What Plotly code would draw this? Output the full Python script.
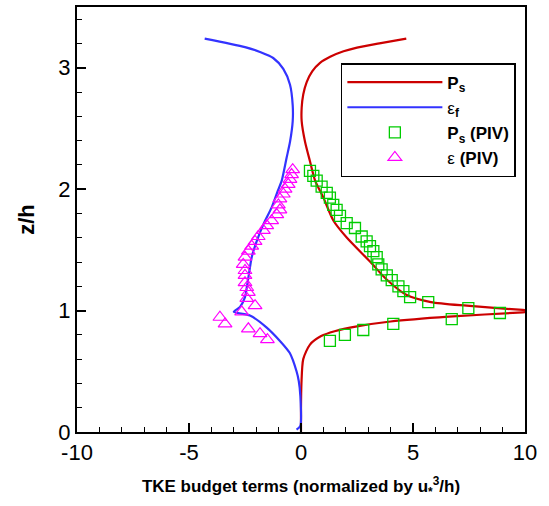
import plotly.graph_objects as go

# P_s model curve
ps_x = [0, 0, 0.02, 0.1, 0.4, 0.9, 1.5, 2.5, 4.0, 6.6, 9.9, 11.0, 9.9, 7.4, 5.8, 4.7, 3.8, 3.1, 2.05, 1.45, 1.0, 0.63, 0.4, 0.18, 0.03, 0.03, 0.1, 0.25, 0.5, 0.85, 1.3, 1.9, 2.5, 3.5, 4.7]
ps_y = [0, 0.2, 0.4, 0.6, 0.72, 0.79, 0.83, 0.87, 0.91, 0.95, 0.985, 0.996, 1.005, 1.04, 1.07, 1.13, 1.26, 1.4, 1.6, 1.74, 1.93, 2.07, 2.23, 2.39, 2.56, 2.67, 2.78, 2.88, 2.97, 3.04, 3.09, 3.135, 3.165, 3.2, 3.24]

# epsilon_f model curve
ef_x = [-0.2, -0.03, -0.03, -0.1, -0.2, -0.5, -0.94, -1.53, -2.28, -3.0, -2.72, -2.5, -2.42, -2.35, -2.2, -1.98, -1.68, -1.31, -1.05, -0.86, -0.64, -0.49, -0.37, -0.37, -0.49, -0.79, -1.24, -1.83, -2.5, -4.3]
ef_y = [0.02, 0.05, 0.3, 0.42, 0.5, 0.65, 0.75, 0.86, 0.96, 0.99, 1.03, 1.11, 1.19, 1.27, 1.44, 1.57, 1.71, 1.85, 1.98, 2.07, 2.26, 2.39, 2.56, 2.69, 2.86, 2.99, 3.08, 3.13, 3.17, 3.24]

# P_s (PIV)
piv_ps_x = [0.40, 0.55, 0.70, 0.92, 1.15, 1.29, 1.44, 1.59, 1.74, 2.04, 2.41, 2.71, 2.93, 3.08, 3.23, 3.38, 3.45, 3.60, 3.83, 4.05, 4.35, 4.57, 4.87, 5.68, 7.47, 8.88, 6.73, 4.12, 2.78, 1.96, 1.29]
piv_ps_y = [2.15, 2.11, 2.07, 2.02, 1.97, 1.93, 1.87, 1.83, 1.78, 1.72, 1.68, 1.61, 1.57, 1.53, 1.49, 1.44, 1.38, 1.34, 1.29, 1.25, 1.20, 1.16, 1.11, 1.07, 1.02, 0.98, 0.93, 0.89, 0.84, 0.80, 0.75]

# epsilon (PIV)
piv_e_x = [-0.37, -0.42, -0.49, -0.57, -0.71, -0.79, -0.94, -1.01, -0.94, -1.08, -1.31, -1.53, -1.68, -1.91, -2.05, -2.2, -2.35, -2.5, -2.58, -2.5, -2.5, -2.5, -2.42, -2.35, -2.42, -2.05, -2.65, -3.62, -3.39, -2.35, -1.83, -1.50]
piv_e_y = [2.16, 2.12, 2.08, 2.04, 2.0, 1.96, 1.92, 1.87, 1.83, 1.79, 1.74, 1.70, 1.66, 1.61, 1.57, 1.53, 1.49, 1.44, 1.38, 1.33, 1.29, 1.23, 1.19, 1.15, 1.10, 1.04, 0.99, 0.945, 0.89, 0.85, 0.81, 0.76]

x_ticks = [-10, -5, 0, 5, 10]
x_ticklabels = ["-10", "-5", "0", "5", "10"]
y_ticks = [0, 1, 2, 3]
y_ticklabels = ["0", "1", "2", "3"]

FONT = "Liberation Sans, Arial, sans-serif"

fig = go.Figure()
fig.add_trace(go.Scatter(x=ps_x, y=ps_y, mode="lines", name="<b>P<sub>s</sub></b>",
                         line=dict(color="#cc0000", width=2.2, shape="spline", smoothing=0.7)))
fig.add_trace(go.Scatter(x=ef_x, y=ef_y, mode="lines", name="ε<sub><b>f</b></sub>",
                         line=dict(color="#3333ff", width=2.2, shape="spline", smoothing=0.7)))
fig.add_trace(go.Scatter(x=piv_ps_x, y=piv_ps_y, mode="markers", name="<b>P<sub>s</sub> (PIV)</b>",
                         marker=dict(symbol="square-open", color="#00cc00", size=11, line=dict(width=1.3))))
fig.add_trace(go.Scatter(x=piv_e_x, y=piv_e_y, mode="markers", name="ε <b>(PIV)</b>",
                         marker=dict(symbol="triangle-up-open", color="#ff00ff", size=12, line=dict(width=1.2))))

axis_common = dict(showline=True, linecolor="black", linewidth=2, mirror=True,
                   ticks="inside", ticklen=9, tickwidth=1.5, tickcolor="black",
                   showgrid=False, zeroline=False,
                   tickfont=dict(family=FONT, size=22, color="black"))

fig.update_xaxes(range=[-10, 10], tickvals=x_ticks, ticktext=x_ticklabels,
                 minor=dict(dtick=1, ticks="inside", ticklen=5, tickwidth=1, tickcolor="black"),
                 title=dict(text="<b>TKE budget terms (normalized by u<sub>*</sub><sup>3</sup>/h)</b>",
                            font=dict(family=FONT, size=17, color="black"), standoff=16),
                 **axis_common)
fig.update_yaxes(range=[0, 3.5], tickvals=y_ticks, ticktext=y_ticklabels,
                 minor=dict(dtick=0.2, ticks="inside", ticklen=5, tickwidth=1, tickcolor="black"),
                 title=dict(text="<b>z/h</b>", font=dict(family=FONT, size=22, color="black"), standoff=18),
                 **axis_common)

fig.update_layout(
    width=549, height=506,
    margin=dict(l=77, r=24, t=5, b=74),
    plot_bgcolor="white", paper_bgcolor="white",
    font=dict(family=FONT, color="black"),
    legend=dict(x=0.589, y=0.868, xanchor="left", yanchor="top",
                bordercolor="black", borderwidth=1.5, bgcolor="white",
                font=dict(family=FONT, size=17, color="black"),
                itemwidth=95, tracegroupgap=0),
)

fig.write_html("out.html")
